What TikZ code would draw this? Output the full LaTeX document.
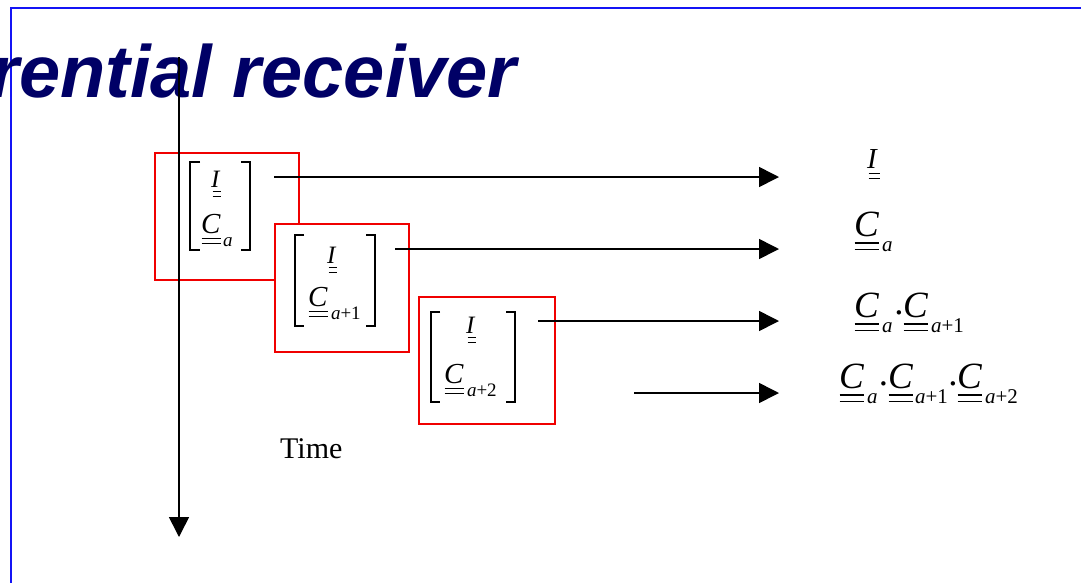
\documentclass[tikz,border=0pt]{standalone}
\usepackage{fontspec}
\setmainfont{Liberation Serif}
\newfontfamily\titlefont{Liberation Sans}
\usetikzlibrary{calc,arrows.meta}
\definecolor{navy}{RGB}{0,0,102}
\definecolor{frameblue}{RGB}{20,20,245}
\definecolor{boxred}{RGB}{240,0,0}
% double-underlined italic symbol: name, position, size, letter, left extra, right extra
\newcommand{\dsym}[6]{%
  \node[sym, font=\fontsize{#3}{#3}\selectfont\itshape] (#1) at #2 {#4};
  \draw[ul] ($(#1.base west)+(#5,0.19*#3)$) -- ($(#1.base east)+(#6,0.19*#3)$);
  \draw[ul] ($(#1.base west)+(#5,0.37*#3)$) -- ($(#1.base east)+(#6,0.37*#3)$);}
% subscript: name, x, baseline-node, drop, size, text
\newcommand{\dsub}[6]{%
  \node[sym, font=\fontsize{#5}{#5}\selectfont] (#1) at ($(#2,0 |- #3.base)+(0,#4)$) {#6};}
% raised dot centred at x: name, x, baseline node, size
\newcommand{\mdot}[4]{%
  \node[sym, anchor=base, font=\fontsize{#4}{#4}\selectfont] (#1) at ($(#2,0 |- #3.base)+(0,-2.5)$) {\makebox[3pt]{.}};}
\begin{document}
\begin{tikzpicture}[x=1pt,y=-1pt,
  sym/.style={inner sep=0pt, outer sep=0pt, anchor=base west},
  ul/.style={line width=1.4pt},
  redbox/.style={draw=boxred, line width=1.5pt, fill=white, inner sep=0pt},
  brk/.style={line width=1.1pt},
  arr/.style={line width=1.6pt, -{Triangle[width=20pt,length=20pt]}},
  lbl/.style={inner sep=0pt, anchor=base west, font=\fontsize{30}{30}\selectfont}]
\clip (0,0) rectangle (1081,582);
\fill[white] (0,0) rectangle (1081,582);
% frame
\draw[frameblue, line width=1.8pt] (1081,8) -- (11,8) -- (11,590);
% title
\node[inner sep=0pt, anchor=base east, text=navy,
  font=\titlefont\bfseries\itshape\fontsize{74}{74}\selectfont] (title) at (517,97) {rential receiver};
% boxes
\node[redbox, minimum width=144pt, minimum height=127pt] (box1) at (227,216.5) {};
\node[redbox, minimum width=134pt, minimum height=128pt] (box2) at (342,288) {};
\node[redbox, minimum width=136pt, minimum height=127pt] (box3) at (487,360.5) {};
% brackets
\draw[brk] (200,162) -- (190,162) -- (190,250) -- (200,250);
\draw[brk] (241,162) -- (250,162) -- (250,250) -- (241,250);
\draw[brk] (304,235) -- (295,235) -- (295,326) -- (304,326);
\draw[brk] (366,235) -- (375,235) -- (375,326) -- (366,326);
\draw[brk] (440,312) -- (431,312) -- (431,402) -- (440,402);
\draw[brk] (506,312) -- (515,312) -- (515,402) -- (506,402);
% matrix contents
\dsym{i1}{(211,187)}{25}{I}{1.5}{2}
\dsym{c1}{(201,233)}{29}{C}{0.5}{1}
\dsub{s1}{223}{c1}{13}{19}{\textit{a}}
\dsym{i2}{(327,263)}{25}{I}{1.5}{2}
\dsym{c2}{(308,306)}{29}{C}{0.5}{1}
\dsub{s2}{331}{c2}{13}{19}{\textit{a}+1}
\dsym{i3}{(466,333)}{25}{I}{1.5}{2}
\dsym{c3}{(444,383)}{29}{C}{0.5}{1}
\dsub{s3}{467}{c3}{13}{19}{\textit{a}+2}
% time axis
\coordinate (ttop) at (179,57);
\coordinate (tbot) at (179,537);
\draw[arr] (ttop) -- (tbot);
\node[lbl] (time) at (280,458) {Time};
% horizontal arrows
\coordinate (a1s) at (274,177); \coordinate (a1e) at (779,177);
\coordinate (a2s) at (395,249); \coordinate (a2e) at (779,249);
\coordinate (a3s) at (538,321); \coordinate (a3e) at (779,321);
\coordinate (a4s) at (634,393); \coordinate (a4e) at (779,393);
\draw[arr] (a1s) -- (a1e);
\draw[arr] (a2s) -- (a2e);
\draw[arr] (a3s) -- (a3e);
\draw[arr] (a4s) -- (a4e);
% right labels
\dsym{ri}{(867,168)}{29}{I}{1.5}{3}
\dsym{rc}{(854,236)}{37}{C}{0.5}{0}
\dsub{rcs}{882}{rc}{15}{21}{\textit{a}}
% C_a . C_{a+1}
\dsym{pa}{(854,317)}{37}{C}{0.5}{0}
\dsub{pas}{882}{pa}{15}{21}{\textit{a}}
\mdot{pd}{899}{pa}{37}
\dsym{pb}{(903,317)}{37}{C}{0.5}{0}
\dsub{pbs}{931}{pb}{15}{21}{\textit{a}+1}
% C_a . C_{a+1} . C_{a+2}
\dsym{qa}{(839,388)}{37}{C}{0.5}{0}
\dsub{qas}{867}{qa}{15}{21}{\textit{a}}
\mdot{qd1}{883.5}{qa}{37}
\dsym{qb}{(888,388)}{37}{C}{0.5}{0}
\dsub{qbs}{915}{qb}{15}{21}{\textit{a}+1}
\mdot{qd2}{953}{qa}{37}
\dsym{qc}{(957,388)}{37}{C}{0.5}{0}
\dsub{qcs}{985}{qc}{15}{21}{\textit{a}+2}
\end{tikzpicture}
\end{document}
